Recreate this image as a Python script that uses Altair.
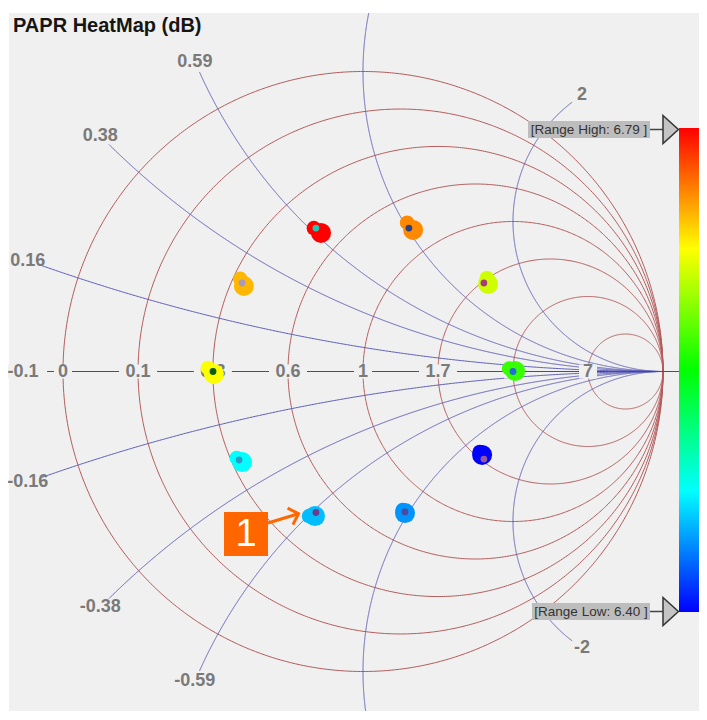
import altair as alt
import numpy as np
import pandas as pd

# ---------------- values ----------------
resistance_circles = [0, 0.143, 0.333, 0.6, 1, 1.667, 3, 7]
reactance_arcs = [0.16, 0.38, 0.59, 1, 2, -0.16, -0.38, -0.59, -1, -2]
reactance_labels = ["0.16", "0.38", "0.59", "", "2", "-0.16", "-0.38", "-0.59", "", "-2"]
extra_axis_label = "-0.1"

# measured point (small inner dot), reflection coefficient re / im
pt_re = [0.50, 0.403, 0.153, -0.157, -0.403, -0.50, -0.413, -0.157, 0.140, 0.403]
pt_im = [0.0, 0.295, 0.478, 0.478, 0.295, 0.0, -0.295, -0.470, -0.468, -0.292]
# heat-map samples around each point (main cluster and side lobe)
blob_re = [0.507, 0.417, 0.167, -0.140, -0.397, -0.497, -0.403, -0.160, 0.140, 0.397]
blob_im = [0.002, 0.292, 0.472, 0.462, 0.285, -0.008, -0.302, -0.482, -0.472, -0.278]
lobe_re = [0.487, 0.413, 0.147, -0.164, -0.409, -0.517, -0.421, -0.180, 0.132, 0.389]
lobe_im = [0.010, 0.312, 0.496, 0.478, 0.309, 0.012, -0.288, -0.482, -0.462, -0.268]
papr_db = [6.60, 6.66, 6.752, 6.79, 6.73, 6.69, 6.50, 6.46, 6.44, 6.40]
inner_colors = ["#1f6fd6", "#a23c7c", "#2c3f80", "#22c7b4", "#a99bb8",
                "#0b5d12", "#2a9ac8", "#6b3b8c", "#4a4aa0", "#955a9a"]

range_low = 6.40
range_high = 6.79
colorbar_colors = ["#0000ff", "#00ffff", "#00ff00", "#ffff00", "#ff0000"]
marker_text = "1"
marker_target = 7

# ---------------- layout / style ----------------
W, H = 690, 698
CX, CY, RPX = 354.0, 358.5, 300.0          # chart centre / radius in plot px
X0, X1 = -CX / RPX, (W - CX) / RPX
Y1, Y0 = CY / RPX, (CY - H) / RPX
BG = "#f0f0f0"
RED = "#b35a5a"
BLUE = "#5c5cb8"
LBL = "#7a7a7a"
FONT = "Liberation Sans"

xs = alt.Scale(domain=[X0, X1], nice=False, zero=False)
ys = alt.Scale(domain=[Y0, Y1], nice=False, zero=False)


def X(f):
    return alt.X(f, type="quantitative", scale=xs, axis=None)


def Y(f):
    return alt.Y(f, type="quantitative", scale=ys, axis=None)


# resistance circles
t = np.linspace(0, 2 * np.pi, 721)
rows = []
for k, r in enumerate(resistance_circles):
    c, rad = r / (1 + r), 1 / (1 + r)
    for i, tt in enumerate(t):
        rows.append(dict(id=k, i=i, gx=c + rad * np.cos(tt), gy=rad * np.sin(tt)))
circ_df = pd.DataFrame(rows)

# reactance arcs
LMAX, LLAB = 1.137, 1.175
arc_rows, arc_lab = [], []
ts = np.linspace(-np.pi / 2, -3 * np.pi / 2, 4000)
for k, (xv, lab) in enumerate(zip(reactance_arcs, reactance_labels)):
    R = 1 / abs(xv)
    s = 1 if xv > 0 else -1
    lim = LMAX if lab else 1.6
    gx = 1 + R * np.cos(ts)
    gy = s * (R + R * np.sin(ts))
    mag = np.hypot(gx, gy)
    for i in range(len(ts)):
        if mag[i] > lim:
            break
        arc_rows.append(dict(id=k, i=i, gx=gx[i], gy=gy[i]))
    if lab:
        j = int(np.argmax(mag >= LLAB))
        arc_lab.append(dict(gx=gx[j], gy=gy[j], t=lab))
arc_df = pd.DataFrame(arc_rows)
arc_lab_df = pd.DataFrame(arc_lab)

# real axis labels
ax_rows = []
for r in resistance_circles:
    g = (r - 1) / (r + 1)
    txt = f"{r:.1f}"
    if txt.endswith(".0"):
        txt = txt[:-2]
    ax_rows.append(dict(gx=g, gy=0.0, t=txt))
ax_rows.append(dict(gx=-1.133, gy=0.0, t=extra_axis_label))
ax_df = pd.DataFrame(ax_rows)
half = (ax_df.t.str.len() * 5.0 + 4) / RPX
ax_df["x1"] = ax_df.gx - half
ax_df["x2"] = ax_df.gx + half
ax_df["y1"] = -7 / RPX
ax_df["y2"] = 7 / RPX

pts_df = pd.DataFrame(dict(gx=pt_re, gy=pt_im, papr=papr_db, c=inner_colors))
blob_df = pd.DataFrame(dict(gx=blob_re, gy=blob_im, papr=papr_db))
lobe_df = pd.DataFrame(dict(gx=lobe_re, gy=lobe_im, papr=papr_db))

cscale = alt.Scale(domain=list(np.linspace(range_low, range_high, 5)),
                   range=colorbar_colors)

layers = []
layers.append(alt.Chart(circ_df).mark_line(color=RED, strokeWidth=1, clip=True)
              .encode(x=X("gx"), y=Y("gy"), detail="id:N", order="i:Q"))
layers.append(alt.Chart(arc_df).mark_line(color=BLUE, strokeWidth=1, clip=True)
              .encode(x=X("gx"), y=Y("gy"), detail="id:N", order="i:Q"))
layers.append(alt.Chart(pd.DataFrame(dict(a=[-1.176], b=[(670 - CX) / RPX], y=[0.0])))
              .mark_rule(color="#4646a6", strokeWidth=1.2)
              .encode(x=X("a"), x2="b", y=Y("y")))
layers.append(alt.Chart(ax_df).mark_rect(color=BG)
              .encode(x=X("x1"), x2="x2", y=Y("y1"), y2="y2"))
layers.append(alt.Chart(ax_df).mark_text(font=FONT, fontSize=18, fontWeight="bold",
                                         color=LBL, baseline="middle")
              .encode(x=X("gx"), y=Y("gy"), text="t:N"))
layers.append(alt.Chart(arc_lab_df).mark_text(font=FONT, fontSize=18, fontWeight="bold",
                                              color=LBL, baseline="middle")
              .encode(x=X("gx"), y=Y("gy"), text="t:N"))
layers.append(alt.Chart(lobe_df).mark_circle(size=210, opacity=1)
              .encode(x=X("gx"), y=Y("gy"),
                      color=alt.Color("papr:Q", scale=cscale, legend=None)))
layers.append(alt.Chart(blob_df).mark_circle(size=400, opacity=1)
              .encode(x=X("gx"), y=Y("gy"),
                      color=alt.Color("papr:Q", scale=cscale, legend=None)))
layers.append(alt.Chart(pts_df).mark_circle(size=46, opacity=1)
              .encode(x=X("gx"), y=Y("gy"), color=alt.Color("c:N", scale=None)))

# marker "1" with arrow pointing at a point
tx, ty = pt_re[marker_target], pt_im[marker_target]
mk = pd.DataFrame(dict(gx=[tx - 0.233], gy=[ty - 0.072], t=[marker_text]))
layers.append(alt.Chart(mk).mark_square(size=1936, opacity=1, color="#ff6600")
              .encode(x=X("gx"), y=Y("gy")))
layers.append(alt.Chart(mk).mark_text(font=FONT, fontSize=38, color="white",
                                      baseline="middle", dy=1)
              .encode(x=X("gx"), y=Y("gy"), text="t:N"))
arr = pd.DataFrame(dict(gx=[tx - 0.160, tx - 0.058], gy=[ty - 0.035, ty - 0.004], i=[0, 1]))
layers.append(alt.Chart(arr).mark_line(color="#ff6600", strokeWidth=3)
              .encode(x=X("gx"), y=Y("gy"), order="i:Q"))
layers.append(alt.Chart(arr.iloc[[1]]).mark_point(shape="M-1,-1L0,0L-1,1", filled=False,
                                                  size=300, angle=342, strokeWidth=3,
                                                  color="#ff6600", opacity=1)
              .encode(x=X("gx"), y=Y("gy")))

# colour bar
BAR_X1 = (670 - CX) / RPX
BAR_TOP = (CY - 115) / RPX
BAR_BOT = (CY - 599) / RPX
grad = alt.Gradient(gradient="linear",
                    stops=[alt.GradientStop(color=c, offset=o)
                           for c, o in zip(colorbar_colors[::-1], [0, 0.25, 0.5, 0.75, 1])],
                    x1=0, x2=0, y1=0, y2=1)
bar = pd.DataFrame(dict(a=[BAR_X1], b=[X1 + 0.05], y1=[BAR_TOP], y2=[BAR_BOT]))
layers.append(alt.Chart(bar).mark_rect(color=grad, clip=True)
              .encode(x=X("a"), x2="b", y=Y("y1"), y2="y2"))

# range labels
rng = pd.DataFrame(dict(
    t=[f"[Range High: {range_high:.2f} ]", f"[Range Low: {range_low:.2f} ]"],
    gy=[BAR_TOP - 1.5 / RPX, BAR_BOT + 0.5 / RPX],
    bx1=[(519 - CX) / RPX, (523 - CX) / RPX],
    bx2=[(641 - CX) / RPX, (641 - CX) / RPX],
))
rng["by1"] = rng.gy + 8.5 / RPX
rng["by2"] = rng.gy - 8.5 / RPX
rng["tx"] = (rng.bx1 + rng.bx2) / 2
rng["lx2"] = (654 - CX) / RPX
rng["tri"] = (661.7 - CX) / RPX
layers.append(alt.Chart(rng).mark_rect(color="#bdbdbd")
              .encode(x=X("bx1"), x2="bx2", y=Y("by1"), y2="by2"))
layers.append(alt.Chart(rng).mark_text(font=FONT, fontSize=13.5, color="#333333",
                                       baseline="middle")
              .encode(x=X("tx"), y=Y("gy"), text="t:N"))
layers.append(alt.Chart(rng).mark_rule(color="#444444", strokeWidth=1.5)
              .encode(x=X("bx2"), x2="lx2", y=Y("gy")))
layers.append(alt.Chart(rng).mark_point(shape="M-0.55,-1L0.55,0L-0.55,1Z", size=784,
                                        filled=True, fill="#c4c4c4", stroke="#333333",
                                        strokeWidth=1.5, opacity=1)
              .encode(x=X("tri"), y=Y("gy")))

chart = (alt.layer(*layers)
         .properties(width=W, height=H,
                     title=alt.TitleParams("PAPR HeatMap (dB)", anchor="start", orient="top",
                                           frame="group", offset=-23, dx=4, fontSize=20,
                                           fontWeight="bold", font=FONT, color="#151515"),
                     autosize=alt.AutoSizeParams(type="none"),
                     padding={"left": 1, "top": 5, "right": 0, "bottom": 0},
                     background="white")
         .configure_view(fill=BG, stroke=None))

chart.save("out.html", embed_options={"renderer": "svg", "actions": False})
